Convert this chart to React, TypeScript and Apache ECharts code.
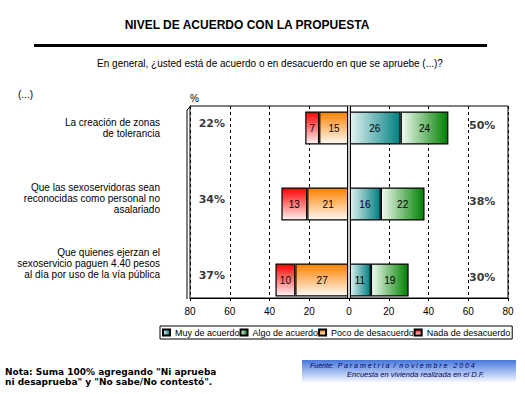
import React, { useEffect, useRef } from "react";
import * as echarts from "echarts";

const categories = [
  "La creación de zonas\nde tolerancia",
  "Que las sexoservidoras sean\nreconocidas como personal no\nasalariado",
  "Que quienes ejerzan el\nsexoservicio paguen 4.40 pesos\nal día por uso de la vía pública",
];
const seriesNames = ["Muy de acuerdo", "Algo de acuerdo", "Poco de desacuerdo", "Nada de desacuerdo"];
const muyDeAcuerdo = [26, 16, 11];
const algoDeAcuerdo = [24, 22, 19];
const pocoDeDesacuerdo = [15, 21, 27];
const nadaDeDesacuerdo = [7, 13, 10];
const totalDesacuerdo = [22, 34, 37];
const totalAcuerdo = [50, 38, 30];
const axisMin = -80;
const axisMax = 80;
const axisStep = 20;

const FONT = "'Liberation Sans', Arial, sans-serif";
const BOLD_FONT = "'DejaVu Sans', Verdana, sans-serif";
const LEFT_LABEL_X = -69;
const RIGHT_LABEL_X = 67;

export default function App() {
  const ref = useRef<HTMLDivElement>(null);
  useEffect(() => {
    if (!ref.current) return;
    const chart = echarts.init(ref.current, undefined, { renderer: "svg" });
    const G = echarts.graphic.LinearGradient;
    const colors = {
      muy: new G(0, 0, 1, 0, [
        { offset: 0, color: "#e6f5f5" },
        { offset: 1, color: "#007f7f" },
      ]),
      algo: new G(0, 0, 1, 0, [
        { offset: 0, color: "#f2fbf2" },
        { offset: 1, color: "#008000" },
      ]),
      poco: new G(0, 0, 0, 1, [
        { offset: 0, color: "#ff8000" },
        { offset: 1, color: "#fffaf4" },
      ]),
      nada: new G(0, 0, 0, 1, [
        { offset: 0, color: "#ff0000" },
        { offset: 1, color: "#fff4f4" },
      ]),
    };
    const absFmt = (p: any) => String(Math.abs(Array.isArray(p.value) ? p.value[0] : p.value));
    const barBase = (name: string, data: number[], color: any) => ({
      name,
      type: "bar",
      xAxisIndex: 1,
      yAxisIndex: 1,
      stack: "total",
      barWidth: 33,
      data,
      itemStyle: { color, borderColor: "#000", borderWidth: 1.2 },
      label: {
        show: true,
        position: "inside",
        formatter: absFmt,
        color: "#000",
        fontSize: 10,
        fontFamily: FONT,
      },
    });
    const pad = ["", "\n ", "\n \n \n "];
    const option: any = {
      animation: false,
      backgroundColor: "#fff",
      grid: [
        { left: 190, right: 17, top: 106, bottom: 96, show: true, borderColor: "#000", borderWidth: 1 },
        { left: 190, right: 17, top: 90, bottom: 76 },
      ],
      xAxis: [
        {
          gridIndex: 0,
          type: "value",
          min: axisMin,
          max: axisMax,
          interval: axisStep,
          axisLine: { show: true, lineStyle: { color: "#000" } },
          axisTick: { show: true, length: 3, lineStyle: { color: "#000" } },
          axisLabel: {
            formatter: (v: number) => String(Math.abs(v)),
            color: "#000",
            fontSize: 10,
            fontFamily: FONT,
            margin: 8,
          },
          splitLine: { show: true, lineStyle: { color: "#000", type: [3, 3], width: 1 } },
        },
        { gridIndex: 1, type: "value", min: axisMin, max: axisMax, show: false },
      ],
      yAxis: [
        { gridIndex: 0, type: "value", min: 0, max: 1, show: false },
        {
          gridIndex: 1,
          type: "category",
          data: categories,
          inverse: true,
          axisLine: { show: false },
          axisTick: { show: false },
          splitLine: { show: false },
          axisLabel: {
            margin: 30,
            color: "#000",
            fontSize: 10,
            lineHeight: 11,
            fontFamily: FONT,
            align: "right",
            formatter: (v: string, i: number) => v + (pad[i] || ""),
          },
        },
      ],
      legend: {
        data: seriesNames,
        left: 160,
        top: 326,
        width: 365,
        orient: "horizontal",
        backgroundColor: "#fff",
        borderColor: "#000",
        borderWidth: 1,
        borderRadius: 0,
        padding: [2, 2, 2, 2],
        itemWidth: 7,
        itemHeight: 6,
        itemGap: 0,
        icon: "rect",
        textStyle: { fontSize: 9, fontFamily: FONT, color: "#000" },
      },
      series: [
        barBase(seriesNames[2], pocoDeDesacuerdo.map((v) => -v), colors.poco),
        barBase(seriesNames[3], nadaDeDesacuerdo.map((v) => -v), colors.nada),
        barBase(seriesNames[0], muyDeAcuerdo, colors.muy),
        barBase(seriesNames[1], algoDeAcuerdo, colors.algo),
        {
          type: "scatter",
          xAxisIndex: 1,
          yAxisIndex: 1,
          symbolSize: 1,
          itemStyle: { color: "rgba(0,0,0,0)" },
          data: totalDesacuerdo.map((v, i) => ({ value: [LEFT_LABEL_X, i], total: v })),
          label: {
            show: true,
            position: "inside",
            offset: [0, -5],
            formatter: (p: any) => totalDesacuerdo[p.dataIndex] + "%",
            fontFamily: BOLD_FONT,
            fontWeight: "bold",
            fontSize: 11,
            color: "#000",
          },
          z: 10,
        },
        {
          type: "scatter",
          xAxisIndex: 1,
          yAxisIndex: 1,
          symbolSize: 1,
          itemStyle: { color: "rgba(0,0,0,0)" },
          data: totalAcuerdo.map((v, i) => ({ value: [RIGHT_LABEL_X, i], total: v })),
          label: {
            show: true,
            position: "inside",
            offset: [0, -3],
            formatter: (p: any) => totalAcuerdo[p.dataIndex] + "%",
            fontFamily: BOLD_FONT,
            fontWeight: "bold",
            fontSize: 11,
            color: "#000",
          },
          z: 10,
        },
        {
          type: "line",
          xAxisIndex: 0,
          yAxisIndex: 0,
          data: [[0, 0], [0, 1]],
          symbol: "none",
          lineStyle: { color: "#000", width: 4 },
          z: 8,
          silent: true,
        },
        {
          type: "line",
          xAxisIndex: 0,
          yAxisIndex: 0,
          data: [[0, 0], [0, 1]],
          symbol: "none",
          lineStyle: { color: "#fff", width: 1.6 },
          z: 9,
          silent: true,
        },
      ],
      graphic: [
        {
          type: "polyline",
          shape: { points: [[187, 299], [187, 110], [191, 106]] },
          style: { stroke: "#000", lineWidth: 1, fill: null },
        },
        {
          type: "text",
          x: 247,
          y: 25,
          style: {
            text: "NIVEL DE ACUERDO CON LA PROPUESTA",
            font: `bold 12px ${FONT}`,
            fill: "#000",
            textAlign: "center",
            textVerticalAlign: "middle",
          },
        },
        { type: "rect", shape: { x: 34, y: 44, width: 453, height: 3 }, style: { fill: "#000" } },
        {
          type: "text",
          x: 270,
          y: 63,
          style: {
            text: "En general, ¿usted está de acuerdo o en desacuerdo en que se apruebe (...)?",
            font: `10px ${FONT}`,
            fill: "#000",
            textAlign: "center",
            textVerticalAlign: "middle",
          },
        },
        {
          type: "text",
          x: 18,
          y: 94,
          style: { text: "(...)", font: `10px ${FONT}`, fill: "#000", textVerticalAlign: "middle" },
        },
        {
          type: "text",
          x: 190,
          y: 98,
          style: { text: "%", font: `10px ${FONT}`, fill: "#000", textVerticalAlign: "middle" },
        },
        {
          type: "text",
          x: 5,
          y: 367,
          style: {
            text: 'Nota: Suma 100% agregando "Ni aprueba\nni desaprueba" y "No sabe/No contestó".',
            font: `bold 9px ${BOLD_FONT}`,
            lineHeight: 10,
            fill: "#000",
          },
        },
        {
          type: "rect",
          shape: { x: 302, y: 360, width: 214, height: 22 },
          style: {
            fill: new G(0, 0, 0, 1, [
              { offset: 0, color: "#4677dc" },
              { offset: 1, color: "#f4f7ff" },
            ]),
          },
        },
        {
          type: "text",
          x: 310,
          y: 365,
          style: {
            text: "Fuente:  P a r a m e t r í a  /  n o v i e m b r e   2 0 0 4",
            font: `italic 7px ${FONT}`,
            fill: "#000060",
            textVerticalAlign: "middle",
          },
        },
        {
          type: "text",
          x: 347,
          y: 374,
          style: {
            text: "Encuesta en vivienda realizada en el D.F.",
            font: `italic 7.5px ${FONT}`,
            fill: "#000060",
            textVerticalAlign: "middle",
          },
        },
      ],
    };
    chart.setOption(option);
    return () => chart.dispose();
  }, []);
  return <div ref={ref} style={{ width: 525, height: 394, position: "absolute", left: 0, top: 0 }} />;
}
